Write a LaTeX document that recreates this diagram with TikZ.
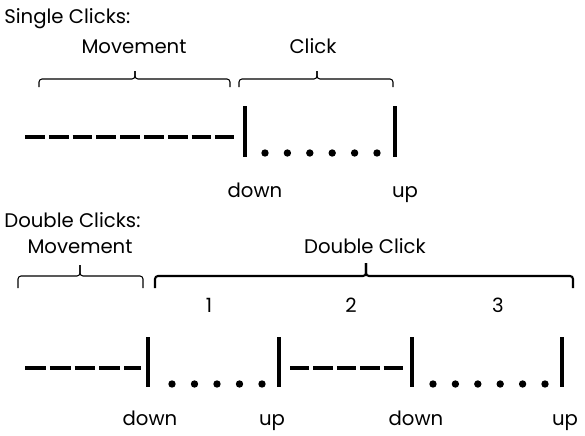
\documentclass[tikz,border=0pt]{standalone}
\usepackage{fontspec}
\setmainfont{Poppins}
\usetikzlibrary{positioning}

\begin{document}
\begin{tikzpicture}[
    x=0.02cm, y=-0.02cm,
    heading/.style={
        anchor=base west, inner sep=0pt,
        font=\fontsize{11.2}{13}\selectfont
    },
    caption/.style={
        anchor=base, inner sep=0pt,
        font=\fontsize{11.2}{13}\selectfont
    },
    tick/.style={line width=2.3pt, draw=black},
    movepath/.style={line width=2.8pt, draw=black},
    dot/.style={fill=black},
    bracket/.style={draw=black, line width=0.6pt, rounded corners=0.06cm},
    bigbracket/.style={bracket, line width=1.2pt}
]
\useasboundingbox (0,0) rectangle (585,436);

% ---- Single clicks ----
\node[heading] (stitle) at (4,23) {Single Clicks:};
\node[caption] (smove) at (134,53) {Movement};
\node[caption] (sclick) at (313,53) {Click};

% Braces
\coordinate (smoveA) at (39,87);
\coordinate (smoveB) at (230,87);
\coordinate (smoveMid) at (135,79);
\coordinate (smoveTip) at (135,71);
\draw[bracket] (smoveA) |- (smoveMid) -- (smoveTip);
\draw[bracket] (smoveB) |- (smoveMid) -- (smoveTip);

\coordinate (sclickA) at (239,87);
\coordinate (sclickB) at (393,87);
\coordinate (sclickMid) at (317,79);
\coordinate (sclickTip) at (317,71);
\draw[bracket] (sclickA) |- (sclickMid) -- (sclickTip);
\draw[bracket] (sclickB) |- (sclickMid) -- (sclickTip);

% Movement dashes
\coordinate (sdashA) at (25,137);
\coordinate (sdashB) at (234,137);
\draw[movepath, dash pattern=on 0.396cm off 0.08cm] (sdashA) -- (sdashB);

% Button bars
\coordinate (sdownT) at (245,106);
\coordinate (sdownB) at (245,157);
\coordinate (supT) at (395,106);
\coordinate (supB) at (395,157);
\draw[tick] (sdownT) -- (sdownB);
\draw[tick] (supT) -- (supB);

% Held dots
\foreach \i in {0,...,5}
    \fill[dot] (265+22.4*\i,153) circle[radius=0.074cm];

\node[caption] (sdown) at (255,197) {down};
\node[caption] (sup) at (405,197) {up};

% ---- Double clicks ----
\node[heading] (dtitle) at (4,227) {Double Clicks:};
\node[caption] (dmove) at (80,253) {Movement};
\node[caption] (dclick) at (365,253) {Double Click};

% Braces
\coordinate (dmoveA) at (18,288);
\coordinate (dmoveB) at (143,288);
\coordinate (dmoveMid) at (80,276);
\coordinate (dmoveTip) at (80,265);
\draw[bracket] (dmoveA) |- (dmoveMid) -- (dmoveTip);
\draw[bracket] (dmoveB) |- (dmoveMid) -- (dmoveTip);

\coordinate (dclickA) at (155,288);
\coordinate (dclickB) at (573,288);
\coordinate (dclickMid) at (366,276);
\coordinate (dclickTip) at (366,263);
\draw[bigbracket] (dclickA) |- (dclickMid) -- (dclickTip);
\draw[bigbracket] (dclickB) |- (dclickMid) -- (dclickTip);

% Phase numbers
\node[caption] (one) at (209,312) {1};
\node[caption] (two) at (351,312) {2};
\node[caption] (three) at (498,312) {3};

% Movement dashes
\coordinate (ddashA) at (25,368);
\coordinate (ddashB) at (141,368);
\coordinate (ddashC) at (290,368);
\coordinate (ddashD) at (404,368);
\draw[movepath, dash pattern=on 0.416cm off 0.08cm] (ddashA) -- (ddashB);
\draw[movepath, dash pattern=on 0.388cm off 0.08cm] (ddashC) -- (ddashD);

% Button bars
\foreach \x [count=\n] in {148,279,412,562} {
    \coordinate (dbarT\n) at (\x,337);
    \coordinate (dbarB\n) at (\x,387);
    \draw[tick] (dbarT\n) -- (dbarB\n);
}

% Held dots
\foreach \i in {0,...,4}
    \fill[dot] (172+22.5*\i,384) circle[radius=0.074cm];
\foreach \i in {0,...,5}
    \fill[dot] (433+22.4*\i,384) circle[radius=0.074cm];

\node[caption] (ddown1) at (150,425) {down};
\node[caption] (dup1) at (272,425) {up};
\node[caption] (ddown2) at (416,425) {down};
\node[caption] (dup2) at (565,425) {up};

\end{tikzpicture}
\end{document}
